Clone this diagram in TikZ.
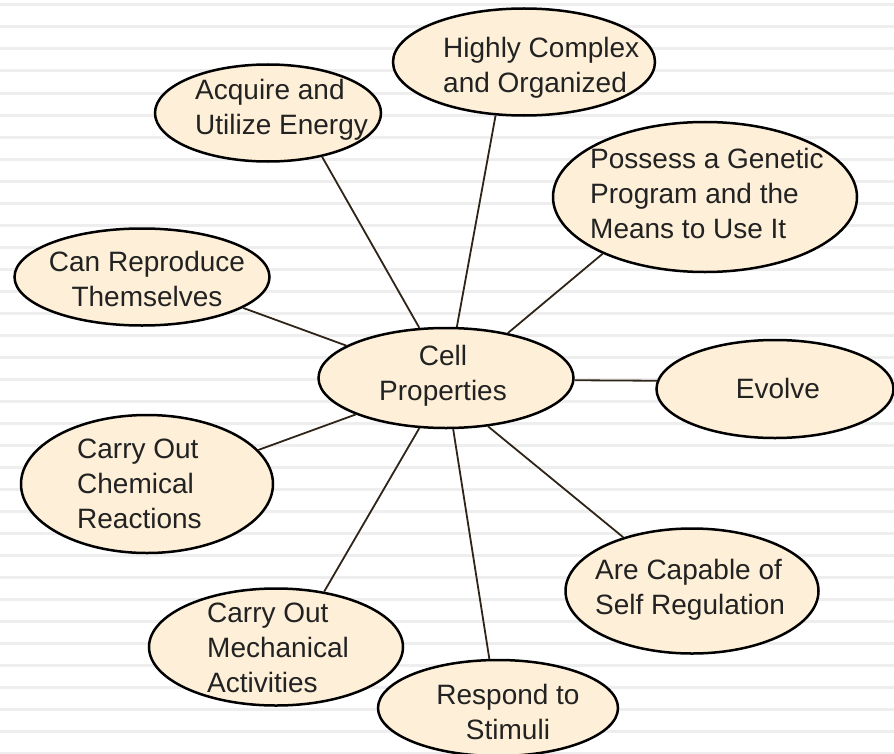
\documentclass[tikz,border=0pt]{standalone}
\usepackage{fontspec}
\setmainfont{Liberation Sans}
\usetikzlibrary{shapes.geometric}
\definecolor{bubble}{HTML}{FDEFD8}
\definecolor{stripe}{HTML}{EEEEEE}
\definecolor{edge}{HTML}{2E2418}
\definecolor{ink}{HTML}{222222}
\begin{document}
\begin{tikzpicture}[x=1bp,y=-1bp,
 font=\fontsize{28bp}{35bp}\selectfont,
 bub/.style 2 args={ellipse,draw=black,fill=bubble,line width=2.5bp,inner sep=0pt,minimum width=#1bp,minimum height=#2bp},
 txt/.style={text=ink,inner sep=0pt,align=left,anchor=west},
 ctxt/.style={text=ink,inner sep=0pt,align=center},
 link/.style={draw=edge,line width=1.8bp},
 band/.style={draw=stripe,line width=3bp}
]
\useasboundingbox (0,0) rectangle (894,754);
\foreach \k in {0,...,34} \draw[band] (0,{5+22*\k}) -- (894,{5+22*\k});

\node[bub={262}{107}] (highly) at (524,62) {};
\node[bub={226}{97}] (acquire) at (268,113) {};
\node[bub={304}{150}] (possess) at (705,197) {};
\node[bub={255}{97}] (repro) at (142,277) {};
\node[bub={255}{100}] (cell) at (446,378) {};
\node[bub={237}{98}] (evolve) at (775,389) {};
\node[bub={252}{138}] (chem) at (147,484) {};
\node[bub={253}{125}] (selfreg) at (692,591) {};
\node[bub={254}{117}] (mech) at (276,647) {};
\node[bub={240}{96}] (stimuli) at (498,708) {};

\draw[link] (cell.78) -- (highly.242);
\draw[link] (cell.118) -- (acquire.-39);
\draw[link] (cell.36) -- (possess.209);
\draw[link] (cell.162) -- (repro.-17);
\draw[link] (cell.-1) -- (evolve.176);
\draw[link] (cell.202) -- (chem.17);
\draw[link] (cell.-49) -- (selfreg.142);
\draw[link] (cell.242) -- (mech.49);
\draw[link] (cell.278) -- (stimuli.100);

\node[txt] (highly-t) at (443,68) {Highly Complex\\and Organized};
\node[txt] (acquire-t) at (195,110) {Acquire and\\Utilize Energy};
\node[txt] (possess-t) at (590,193) {Possess a Genetic\\Program and the\\Means to Use It};
\node[ctxt] (repro-t) at (147,279) {Can Reproduce\\Themselves};
\node[ctxt] (cell-t) at (443,376) {Cell\\Properties};
\node[ctxt] (evolve-t) at (778,388) {Evolve};
\node[txt] (chem-t) at (77,484) {Carry Out\\Chemical\\Reactions};
\node[txt] (selfreg-t) at (595,590) {Are Capable of\\Self Regulation};
\node[txt] (mech-t) at (207,648) {Carry Out\\Mechanical\\Activities};
\node[ctxt] (stimuli-t) at (508,712) {Respond to\\Stimuli};
\end{tikzpicture}
\end{document}
